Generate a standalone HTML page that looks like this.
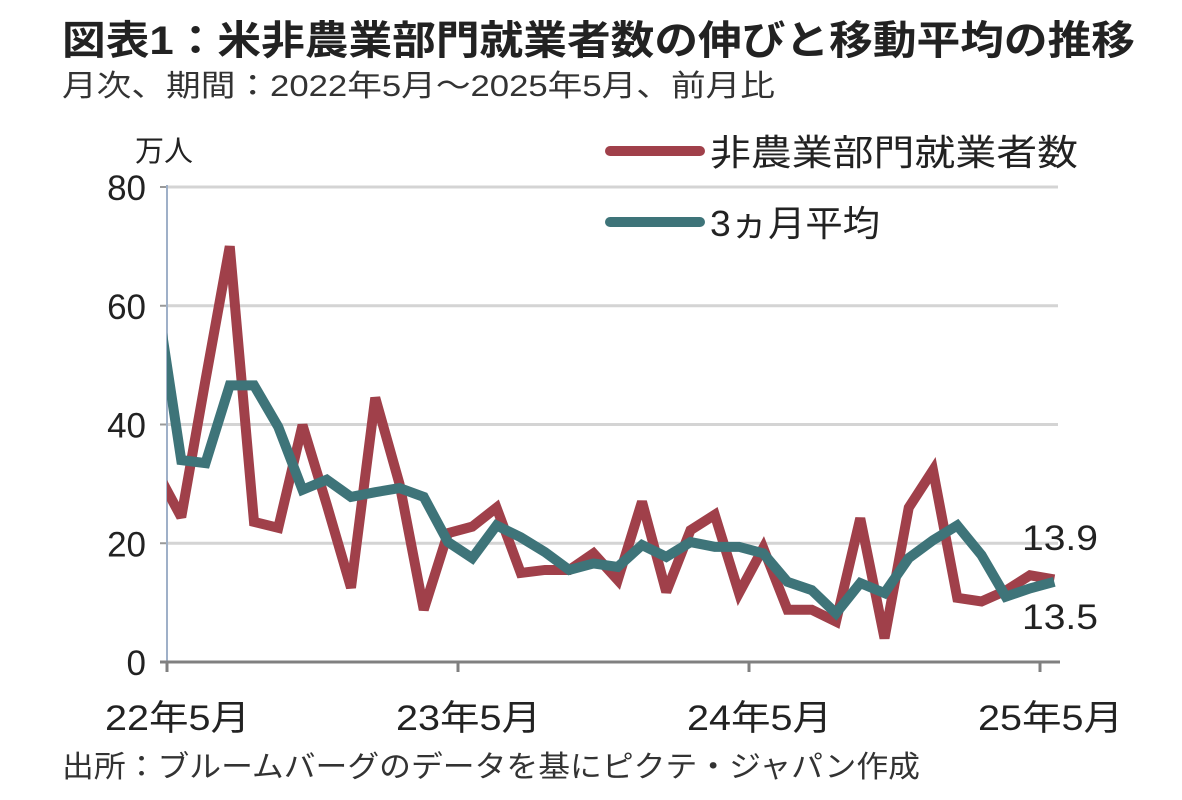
<!DOCTYPE html>
<html><head><meta charset="utf-8"><style>
body{margin:0;background:#fff;}
svg text{font-family:"Liberation Sans","Noto Sans CJK JP",sans-serif;}
</style></head><body>
<svg id="chart" width="1182" height="795" xmlns="http://www.w3.org/2000/svg">
<text x="62" y="54" font-size="40" font-weight="bold" fill="#222" textLength="1073" lengthAdjust="spacingAndGlyphs">図表1：米非農業部門就業者数の伸びと移動平均の推移</text>
<text x="62" y="96" font-size="30" fill="#333" textLength="713" lengthAdjust="spacingAndGlyphs">月次、期間：2022年5月～2025年5月、前月比</text>
<text x="135" y="161" font-size="29" fill="#222">万人</text>
<g id="grid"></g>
<g id="plot"></g>
<g>
<line x1="610" y1="151" x2="700" y2="151" stroke="#a0404a" stroke-width="10" stroke-linecap="round"/>
<text x="710" y="165" font-size="36" fill="#222" textLength="368" lengthAdjust="spacingAndGlyphs">非農業部門就業者数</text>
<line x1="610" y1="222" x2="700" y2="222" stroke="#3e7479" stroke-width="10" stroke-linecap="round"/>
<text x="710" y="236" font-size="36" fill="#222" textLength="170" lengthAdjust="spacingAndGlyphs">3ヵ月平均</text>
</g>
<text x="1022" y="550" font-size="35" fill="#222" textLength="76" lengthAdjust="spacingAndGlyphs">13.9</text>
<text x="1022" y="629" font-size="35" fill="#222" textLength="76" lengthAdjust="spacingAndGlyphs">13.5</text>
<text x="62" y="777" font-size="30" fill="#333" textLength="858" lengthAdjust="spacingAndGlyphs">出所：ブルームバーグのデータを基にピクテ・ジャパン作成</text>
</svg>
<script>
const yTicks=[0,20,40,60,80];
const xTickLabels=["22年5月","23年5月","24年5月","25年5月"];
const payrolls=[32,24.4,47.5,70,23.6,22.6,39.9,26.5,12.5,44.5,30,8.8,21.7,22.8,26,15,15.5,15.5,18.3,13.8,27,11.8,22.2,24.8,11.6,19.2,8.8,8.8,6.8,24.2,4,26,32.3,10.8,10.2,12,14.6,13.9];
const avg3m=[61,34,33.5,46.6,46.6,39.6,29,30.7,27.8,28.6,29.3,27.8,20.2,17.5,23,21,18.5,15.5,16.6,16,19.7,17.7,20.2,19.4,19.4,18.3,13.5,12.1,8.2,13.3,11.6,17.5,20.5,23,18,11,12.4,13.5];
const NS="http://www.w3.org/2000/svg";
const svg=document.getElementById('chart');
const grid=document.getElementById('grid');
const plot=document.getElementById('plot');
const x0=167,mw=24.25,y0=662,yh=475,ymax=80;
function X(i){return x0-10+i*mw;}
function Y(v){return y0-v/ymax*yh;}
function mk(t,a,p){const e=document.createElementNS(NS,t);for(const k in a)e.setAttribute(k,a[k]);(p||svg).appendChild(e);return e;}
const cp=mk('clipPath',{id:'clip'});mk('rect',{x:167,y:100,width:900,height:600},cp);
yTicks.forEach(v=>{
  if(v>0){const g=mk('line',{x1:167,x2:1058,y1:Y(v),y2:Y(v),stroke:'#d4d4d4','stroke-width':3},grid);
  
  }
  const t=mk('text',{x:146,y:Y(v)+13,'font-size':35,'text-anchor':'end',fill:'#222'},grid);
  t.textContent=v;
  
  
  const tk=mk('line',{x1:160,x2:167,y1:Y(v),y2:Y(v),stroke:'#999','stroke-width':2},grid);
  
  
});
const ya=mk('line',{x1:167,x2:167,y1:185,y2:662,stroke:'#9fb0c8','stroke-width':2},grid);


const xa=mk('line',{x1:160,x2:1060,y1:662,y2:662,stroke:'#808080','stroke-width':3},grid);


xTickLabels.forEach((l,j)=>{
  const x=x0+j*12*mw;
  const tk=mk('line',{x1:x,x2:x,y1:662,y2:672,stroke:'#808080','stroke-width':3},grid);
  
  
  const t=mk('text',{x:x-62,y:730,'font-size':35,fill:'#222',textLength:145,lengthAdjust:'spacingAndGlyphs'},grid);
  t.textContent=l;
  
  
});
function line(d,c,n){
  const p=mk('polyline',{points:d.map((v,i)=>X(i)+','+Y(v)).join(' '),fill:'none',stroke:c,'stroke-width':10,'stroke-linejoin':'miter','stroke-miterlimit':3,'clip-path':'url(#clip)'},plot);
  
  
}
line(payrolls,'#a0404a','line-payrolls');
line(avg3m,'#3e7479','line-3m-avg');
</script>
</body></html>
